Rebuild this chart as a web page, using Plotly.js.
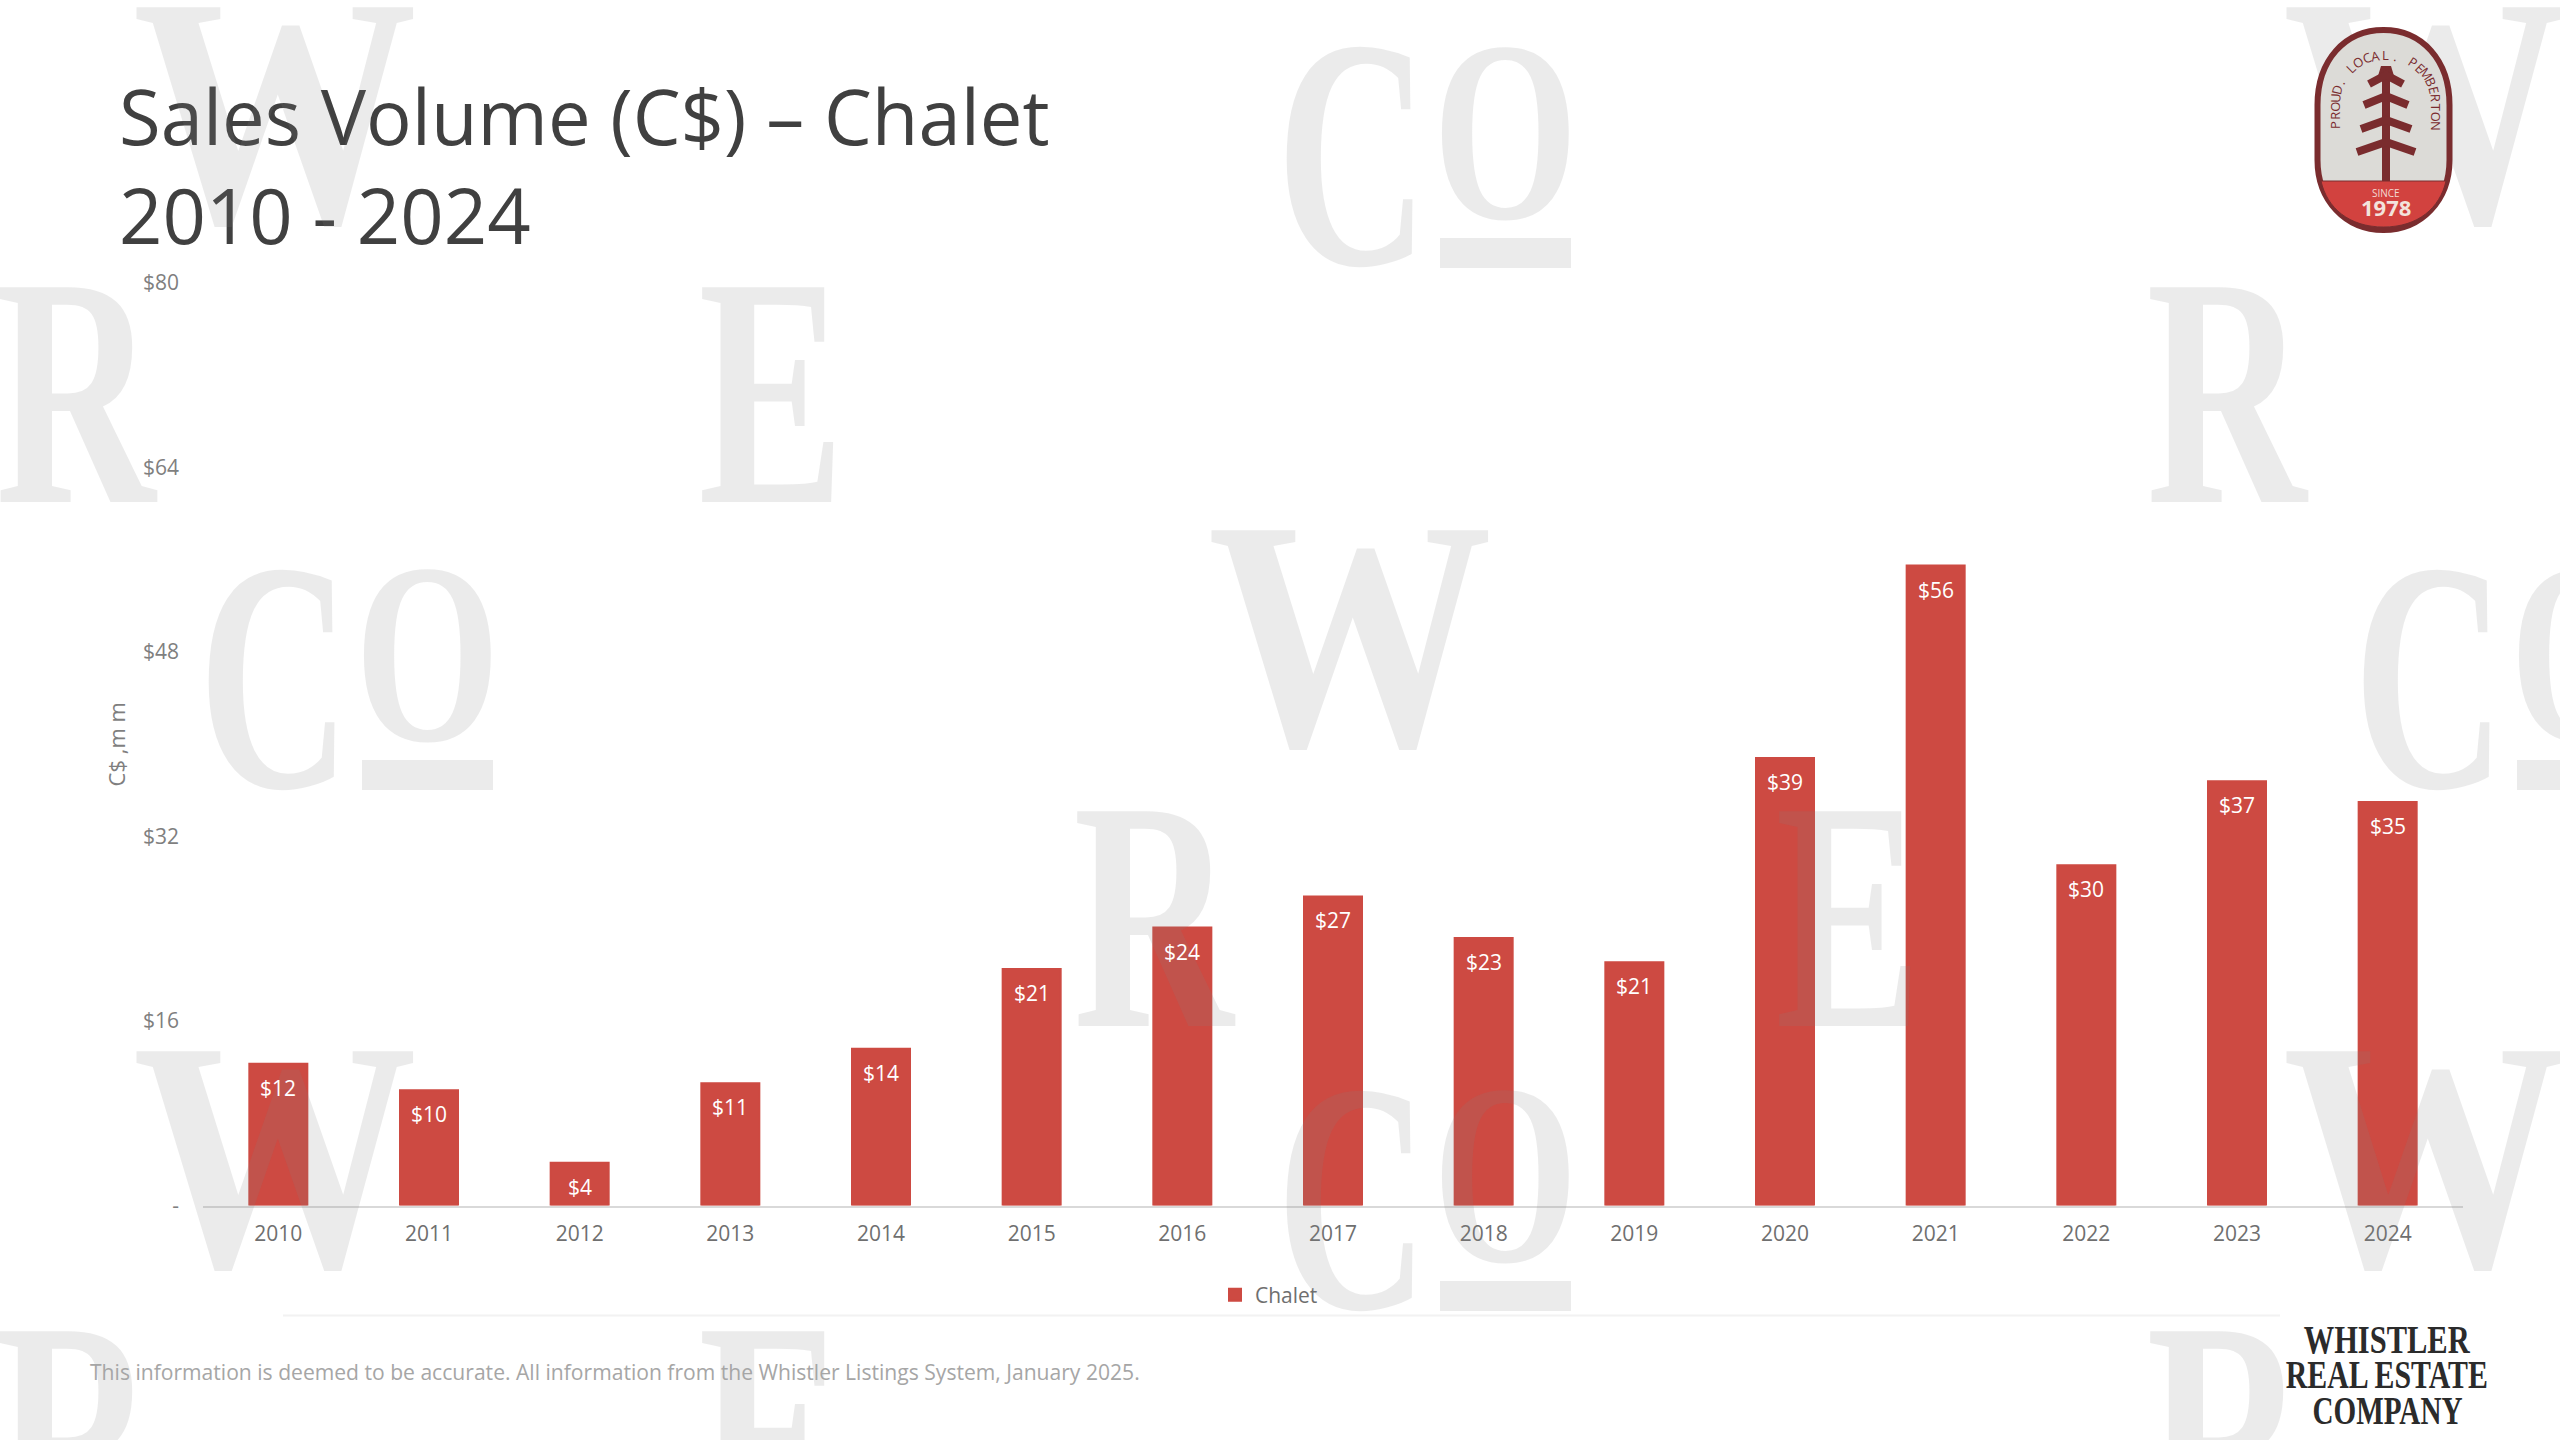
<!DOCTYPE html>
<html><head><meta charset="utf-8">
<script src="https://cdn.plot.ly/plotly-3.0.1.min.js"></script>
<style>html,body{margin:0;padding:0;background:#fff}#chart{width:2560px;height:1440px}</style>
</head><body><div id="chart"></div>
<script>
const years = ['2010','2011','2012','2013','2014','2015','2016','2017','2018','2019','2020','2021','2022','2023','2024'];
const chaletValues = [12.3,10.0,3.7,10.6,13.6,20.5,24.1,26.8,23.2,21.1,38.8,55.5,29.5,36.8,35.0];
const barLabels = ['$12','$10','$4','$11','$14','$21','$24','$27','$23','$21','$39','$56','$30','$37','$35'];
const yTickVals = [0,16,32,48,64,80];
const yTickText = ['-','$16','$32','$48','$64','$80'];
const W = 2560, H = 1440;
const X = p => p / W, Y = p => 1 - p / H;
const SANS = '"Open Sans", sans-serif', SERIF = '"Liberation Serif", serif';
const WM = 'rgba(128,128,128,0.16)';
const anns = [], fit = [], shapes = [];
function txt(t, x, y, size, color, opt) {
  opt = opt || {};
  anns.push(Object.assign({text:t, xref:'paper', yref:'paper', x:X(x), y:Y(y), showarrow:false,
    xanchor:'center', yanchor:'middle', font:{family:opt.family||SANS, size:size, color:color},
    borderpad:0, borderwidth:0}, opt.extra||{}));
  fit.push(opt.width||0);
}
function pth(cmds){return cmds.map(c=>{let s=c[0];for(let i=1;i<c.length;i+=2){s+=' '+X(c[i])+','+Y(c[i+1]);}return s;}).join(' ');}
function rect(x0,y0,x1,y1,color){shapes.push({type:'rect',xref:'paper',yref:'paper',x0:X(x0),x1:X(x1),y0:Y(y0),y1:Y(y1),fillcolor:color,line:{width:0},layer:'above'});}
function path(cmds,fill,lineColor,lineW){shapes.push({type:'path',xref:'paper',yref:'paper',path:pth(cmds),fillcolor:fill||'rgba(0,0,0,0)',line:{color:lineColor||'rgba(0,0,0,0)',width:lineW||0},layer:'above'});}
// watermark letters
function wmW(cx,cy){txt('<b>W</b>',cx,cy,328,WM,{family:SERIF,width:285});}
function wmR(cx,cy){txt('<b>R</b>',cx,cy,328,WM,{family:SERIF,width:160});}
function wmE(cx,cy){txt('<b>E</b>',cx,cy,328,WM,{family:SERIF,width:146});}
function wmCO(dx,dy){
  txt('<b>C</b>',1352+dx,154+dy,328,WM,{family:SERIF,width:152});
  txt('<b>O</b>',1505+dx,131+dy,258,WM,{family:SERIF,width:145});
  rect(1440+dx,238+dy,1571+dx,268+dy,WM);
}
wmW(2425,112); const movedIndex = 0;
wmW(275,112); wmW(1350,634); wmW(275,1155); wmW(2425,1155);
wmCO(0,0); wmCO(-1078,522); wmCO(1077,522); wmCO(0,1043);
wmR(77,392); wmR(2228,392); wmR(1155,915); wmR(77,1435); wmR(2228,1435);
wmE(771,392); wmE(1848,915); wmE(771,1435);
// separator
shapes.push({type:'line',xref:'paper',yref:'paper',x0:X(283),x1:X(2280),y0:Y(1315.5),y1:Y(1315.5),line:{color:'#f2f2f2',width:2},layer:'above'});
// badge
const DARK='#7a2c2e';
path([['M',2317.5,105],['C',2317.5,60,2345,30,2383.5,30],['C',2422,30,2449.5,60,2449.5,105],['L',2449.5,160],['C',2449.5,200,2422,230,2383.5,230],['C',2345,230,2317.5,200,2317.5,160],['Z']],'#dcdbd7',DARK,6);
path([['M',2321,181],['L',2446,181],['C',2440,208,2418,227,2383.5,227],['C',2349,227,2327,208,2321,181],['Z']],'#d2423f',DARK,1);
rect(2382,72,2390,181,DARK);
path([['M',2381,66],['L',2391,66],['L',2394,76],['L',2378,76],['Z']],DARK);
path([['M',2369,84],['L',2386,75],['L',2403,84]],null,DARK,8);
path([['M',2364,105],['L',2386,96],['L',2408,105]],null,DARK,8);
path([['M',2361,129],['L',2386,120],['L',2411,129]],null,DARK,8);
path([['M',2357,152],['L',2386,142],['L',2415,152]],null,DARK,8);
// curved badge text, letter by letter, along the inner edge of the badge
const badgeText = 'PROUD. LOCAL. PEMBERTON';
(function(){
  const cx=2385.5, cy=100, rx=50, ry=45, st=30, arc=Math.PI*Math.sqrt((rx*rx+ry*ry)/2), total=2*st+arc;
  [...badgeText].forEach((ch,i)=>{
    const s=(i+0.5)/badgeText.length*total; let x,y,a;
    if(s<st){x=cx-rx;y=cy+st-s;a=-90;}
    else if(s>st+arc){x=cx+rx;y=cy+(s-st-arc);a=90;}
    else{const th=(s-st)/arc*Math.PI;x=cx-rx*Math.cos(th);y=cy-ry*Math.sin(th);a=(th/Math.PI)*180-90;}
    if(ch!==' ')txt(ch,x,y,13,DARK,{extra:{textangle:a}});
  });
})();
txt('SINCE',2386,193,10,'#f3d9d2');
txt('<b>1978</b>',2386,207,22,'#f3e3dc');
// company mark
txt('<b>WHISTLER</b>',2387,1338.5,41,'#2b2b2b',{family:SERIF,width:166});
txt('<b>REAL ESTATE</b>',2387,1374,41,'#2b2b2b',{family:SERIF,width:202});
txt('<b>COMPANY</b>',2387,1410,41,'#2b2b2b',{family:SERIF,width:150});
// footer
txt('This information is deemed to be accurate. All information from the Whistler Listings System, January 2025.',90,1371,21.1,'#a6a6a6',{extra:{xanchor:'left'}});
// bar value labels
years.forEach((yr,i)=>{
  anns.push({text:barLabels[i],xref:'x',yref:'y',x:i,y:chaletValues[i],yshift:-24,showarrow:false,
    xanchor:'center',yanchor:'middle',font:{family:SANS,size:21,color:'#ffffff'}});
  fit.push(0);
});
const trace = {type:'bar',name:'Chalet',x:years,y:chaletValues,width:0.385,
  marker:{color:'#cd4a42',line:{color:'#cd4a42',width:2}},hoverinfo:'skip',cliponaxis:false};
const layout = {
  width:W,height:H,margin:{l:0,r:0,t:0,b:0,pad:0},paper_bgcolor:'#fff',plot_bgcolor:'rgba(0,0,0,0)',
  font:{family:SANS,color:'#7f7f7f',size:21},
  title:{text:'Sales Volume (C$) – Chalet<br>2010 - 2024',x:X(119),xref:'paper',xanchor:'left',y:Y(145),yref:'paper',yanchor:'top',
    font:{family:SANS,size:76,color:'#404040'},pad:{t:0,b:0,l:0,r:0},automargin:false},
  xaxis:{type:'category',domain:[X(203),X(2463)],range:[-0.5,14.5],showgrid:false,zeroline:false,showline:true,linecolor:'#d9d9d9',linewidth:2,
    ticks:'',ticklabelstandoff:8,tickfont:{family:SANS,size:21,color:'#6f6f6f'},automargin:false,fixedrange:true,categoryorder:'array',categoryarray:years},
  yaxis:{domain:[Y(1205.5),Y(283)],range:[0,80],tickmode:'array',tickvals:yTickVals,ticktext:yTickText,showgrid:false,zeroline:false,showline:false,
    ticks:'',ticklabelstandoff:23,tickfont:{family:SANS,size:21,color:'#7f7f7f'},automargin:false,fixedrange:true,
    title:{text:'C$ ,m m',standoff:11,font:{family:SANS,size:22,color:'#7f7f7f'}}},
  showlegend:true,
  legend:{orientation:'h',x:X(1215),xanchor:'left',y:Y(1295),yanchor:'middle',font:{family:SANS,size:21,color:'#6f6f6f'},bgcolor:'rgba(0,0,0,0)',itemclick:false,itemdoubleclick:false},
  bargap:0.6,
  annotations:anns,shapes:shapes
};
Plotly.newPlot('chart',[trace],layout,{displayModeBar:false,responsive:false}).then(()=>{
  fit.forEach((w,i)=>{
    if(!w)return;
    const t=document.querySelector('.annotation[data-index="'+i+'"] text');
    if(t){t.setAttribute('textLength',w);t.setAttribute('lengthAdjust','spacingAndGlyphs');}
  });
  const g=document.querySelector('.annotation[data-index="'+movedIndex+'"]');
  const lower=document.querySelector('.layer-below');
  if(g&&lower)lower.appendChild(g);
});
</script></body></html>
